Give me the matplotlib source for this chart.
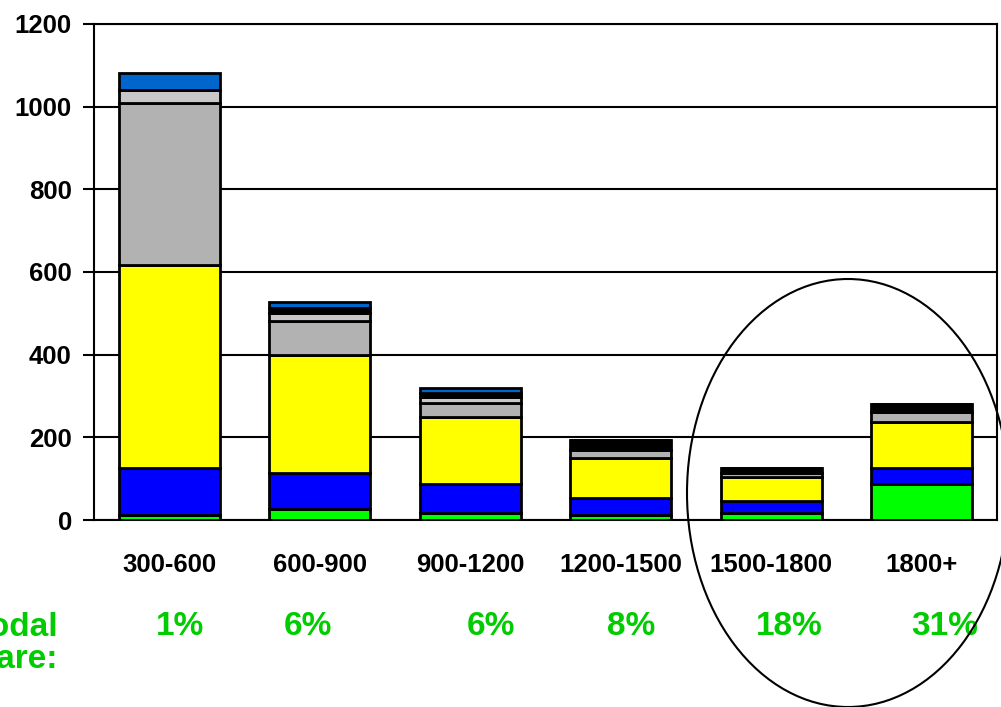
import numpy as np
import matplotlib
matplotlib.use("Agg")
import matplotlib.pyplot as plt
from matplotlib.patches import Ellipse

plt.rcParams['font.family'] = ['Liberation Sans', 'DejaVu Sans']
plt.rcParams['font.weight'] = 'bold'

# данные
categories = ['300-600', '600-900', '900-1200', '1200-1500', '1500-1800', '1800+']
green      = [12, 26, 16, 12, 18, 86]
blue       = [115, 87, 70, 41, 29, 39]
yellow     = [490, 285, 164, 98, 58, 113]
gray       = [391, 84, 34, 18, 9, 24]
light_gray = [32, 20, 13, 0, 0, 0]
black      = [0, 10, 11, 25, 11, 18]
steel_blue = [41, 16, 11, 0, 0, 0]
shares     = ['1%', '6%', '6%', '8%', '18%', '31%']
share_x    = [0.07, 0.92, 2.14, 3.07, 4.12, 5.15]

series = [green, blue, yellow, gray, light_gray, black, steel_blue]
colors = ['#00FF00', '#0000FF', '#FFFF00', '#B2B2B2', '#C8C8C8', '#000000', '#0066CC']

fig = plt.figure(figsize=(10.01, 7.07), dpi=100)
ax = fig.add_axes([94/1001, 1 - 520/707, (997 - 94)/1001, (520 - 24)/707])

x = np.arange(len(categories))
bottom = np.zeros(len(categories))
for vals, c in zip(series, colors):
    v = np.array(vals, dtype=float)
    ax.bar(x, v, bottom=bottom, width=0.67, color=c, edgecolor='black',
           linewidth=2, zorder=3)
    bottom += v

ax.set_xlim(-0.5, len(categories) - 0.5)
ax.set_ylim(0, 1200)
ax.set_yticks(range(0, 1201, 200))
ax.set_yticklabels([str(t) for t in range(0, 1201, 200)], fontsize=18.5, fontweight='bold')
ax.set_xticks(x)
ax.set_xticklabels(categories, fontsize=18.5, fontweight='bold')
ax.tick_params(axis='x', length=0, pad=24)
ax.tick_params(axis='y', length=8, width=1.5, direction='out', pad=8)
ax.yaxis.grid(True, color='black', linewidth=1.5, zorder=0)
ax.set_axisbelow(True)
for s in ax.spines.values():
    s.set_linewidth(1.5)
    s.set_color('black')

# доли
for xs, txt in zip(share_x, shares):
    ax.text(xs, -0.215, txt, transform=ax.get_xaxis_transform(), ha='center', va='center',
            fontsize=24, fontweight='bold', color='#00CC00')
fig.text(58/1001, 1 - 627/707, 'Modal', ha='right', va='center', fontsize=24,
         fontweight='bold', color='#00CC00')
fig.text(58/1001, 1 - 660/707, 'share:', ha='right', va='center', fontsize=24,
         fontweight='bold', color='#00CC00')

ell = Ellipse((848/1001, 1 - 493/707), 322/1001, 428/707, transform=fig.transFigure,
              fill=False, edgecolor='black', linewidth=1.5)
fig.add_artist(ell)

fig.savefig('out.png', dpi=100)
